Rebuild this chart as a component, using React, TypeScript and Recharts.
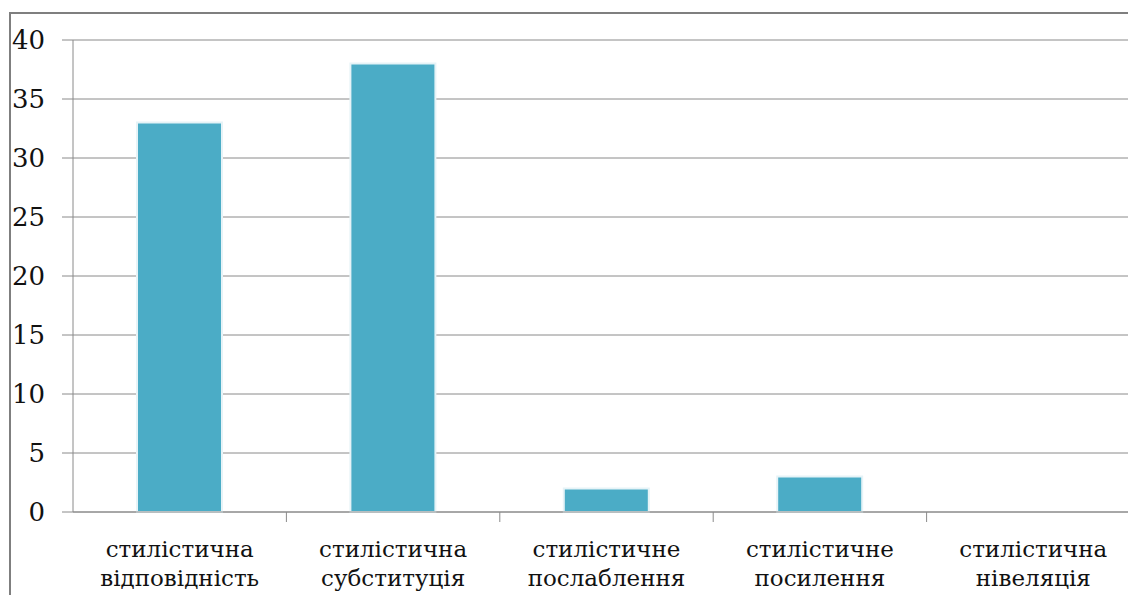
import { Bar, BarChart, CartesianGrid, XAxis, YAxis } from "recharts";

const categories = [
  ["стилістична", "відповідність"],
  ["стилістична", "субституція"],
  ["стилістичне", "послаблення"],
  ["стилістичне", "посилення"],
  ["стилістична", "нівеляція"],
];
const counts = [33, 38, 2, 3, 0];
const yTicks = [0, 5, 10, 15, 20, 25, 30, 35, 40];

const data = categories.map((c, i) => ({ name: c.join(" "), lines: c, value: counts[i] }));

const FONT = "'DejaVu Serif', 'Liberation Serif', serif";
const GRID = "#8a8a8a";
const CHART_W = 1140;
const PLOT_LEFT = 73;
const BAND = (CHART_W - PLOT_LEFT) / categories.length;

function CategoryTick(props: any) {
  const { x, y, index } = props;
  const lines = data[index]?.lines ?? [];
  return (
    <g>
      <line x1={x + BAND / 2} x2={x + BAND / 2} y1={y} y2={y + 10} stroke={GRID} strokeWidth={1} />
      <text x={x} y={y} textAnchor="middle" fill="#111" style={{ fontFamily: FONT, fontSize: 23 }}>
        <tspan x={x} dy={45}>{lines[0]}</tspan>
        <tspan x={x} dy={29}>{lines[1]}</tspan>
      </text>
    </g>
  );
}

function ValueTick(props: any) {
  const { x, y, payload } = props;
  return (
    <text x={x} y={y} dy={9} textAnchor="end" fill="#111" style={{ fontFamily: FONT, fontSize: 26 }}>
      {payload.value}
    </text>
  );
}

export default function App() {
  return (
    <div
      style={{
        position: "absolute",
        left: 0,
        top: 0,
        width: 1128,
        height: 595,
        overflow: "hidden",
        background: "#fff",
        fontFamily: FONT,
      }}
    >
      <div
        style={{
          position: "absolute",
          left: 9,
          top: 12,
          width: 1200,
          height: 700,
          border: "2px solid #7f7f7f",
        }}
      />
      <div style={{ position: "absolute", left: 0, top: 0 }}>
        <BarChart
          width={CHART_W}
          height={595}
          data={data}
          margin={{ top: 40, right: 0, bottom: 0, left: 0 }}
        >
          <CartesianGrid vertical={false} stroke={GRID} />
          <XAxis
            dataKey="name"
            height={83}
            tickSize={0}
            tickMargin={0}
            tickLine={false}
            axisLine={{ stroke: GRID }}
            interval={0}
            tick={<CategoryTick />}
          />
          <YAxis
            width={PLOT_LEFT}
            domain={[0, 40]}
            ticks={yTicks}
            interval={0}
            tickSize={11}
            tickMargin={17}
            axisLine={{ stroke: GRID }}
            tickLine={{ stroke: GRID }}
            tick={<ValueTick />}
          />
          <Bar
            dataKey="value"
            fill="#4BACC6"
            stroke="#e6f3f7"
            strokeWidth={2}
            barSize={85}
            isAnimationActive={false}
          />
        </BarChart>
      </div>
    </div>
  );
}
